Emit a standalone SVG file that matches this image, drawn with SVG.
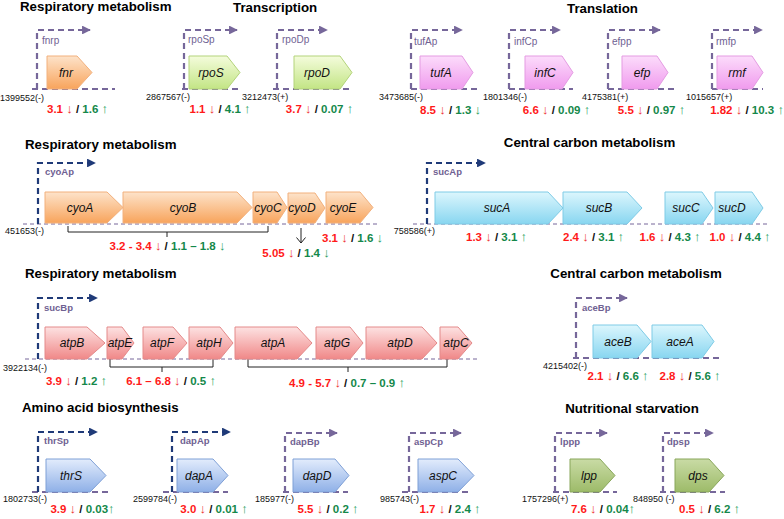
<svg xmlns="http://www.w3.org/2000/svg" width="784" height="519" viewBox="0 0 784 519">
<defs>
<linearGradient id="gOr" x1="0" y1="0" x2="0" y2="1"><stop offset="0" stop-color="#fde3ca"/><stop offset="1" stop-color="#f8a45c"/></linearGradient>
<linearGradient id="gLg" x1="0" y1="0" x2="0" y2="1"><stop offset="0" stop-color="#f4fcdc"/><stop offset="1" stop-color="#c3e585"/></linearGradient>
<linearGradient id="gPk" x1="0" y1="0" x2="0" y2="1"><stop offset="0" stop-color="#fcdcfb"/><stop offset="1" stop-color="#f09bee"/></linearGradient>
<linearGradient id="gCy" x1="0" y1="0" x2="0" y2="1"><stop offset="0" stop-color="#dcf6fd"/><stop offset="1" stop-color="#88d6f0"/></linearGradient>
<linearGradient id="gRd" x1="0" y1="0" x2="0" y2="1"><stop offset="0" stop-color="#fde2e2"/><stop offset="1" stop-color="#f08888"/></linearGradient>
<linearGradient id="gBl" x1="0" y1="0" x2="0" y2="1"><stop offset="0" stop-color="#e2ecfc"/><stop offset="1" stop-color="#8fb0e7"/></linearGradient>
<linearGradient id="gOl" x1="0" y1="0" x2="0" y2="1"><stop offset="0" stop-color="#c9dba5"/><stop offset="1" stop-color="#9dbb69"/></linearGradient>
<marker id="aP" viewBox="0 0 10 10" refX="9" refY="5" markerWidth="4" markerHeight="4" orient="auto" markerUnits="strokeWidth"><path d="M0 0 L10 5 L0 10 Z" fill="#76679a"/></marker>
<marker id="aN" viewBox="0 0 10 10" refX="9" refY="5" markerWidth="4" markerHeight="4" orient="auto" markerUnits="strokeWidth"><path d="M0 0 L10 5 L0 10 Z" fill="#1f3a78"/></marker>
</defs>
<style>
text{font-family:"Liberation Sans",Arial,sans-serif}
.t{font-size:13.3px;font-weight:bold;fill:#000}
.gn{font-size:12px;font-style:italic;fill:#111;text-anchor:middle}
.c{font-size:9px;fill:#111}
.pl{font-size:10px;fill:#6f6192}
.pb{font-size:9.5px;font-weight:bold;fill:#6f6192}
.v{font-size:11.5px;font-weight:bold;text-anchor:middle;fill:#111}
.r{fill:#ff1a1a}
.g{fill:#14884a}
.ar{font-weight:normal;font-size:13px}
.r.ar{fill:#ee3333}
.g.ar{fill:#27a060}
.pp{fill:none;stroke:#76679a;stroke-width:2.2;stroke-dasharray:6 4;marker-end:url(#aP)}
.pn{fill:none;stroke:#1f3a78;stroke-width:2.2;stroke-dasharray:6 4;marker-end:url(#aN)}
.bt{fill:none;stroke:#76679a;stroke-width:2.2;stroke-dasharray:6 4}
.bn{fill:none;stroke:#76679a;stroke-width:1;stroke-dasharray:4 3}
.br{fill:none;stroke:#222;stroke-width:1}
.or{fill:url(#gOr);stroke:#f2b07c;stroke-width:1}
.lg{fill:url(#gLg);stroke:#b3d37a;stroke-width:1}
.pk{fill:url(#gPk);stroke:#e49be2;stroke-width:1}
.cy{fill:url(#gCy);stroke:#7ecbe6;stroke-width:1}
.rd{fill:url(#gRd);stroke:#e48a8a;stroke-width:1}
.bl{fill:url(#gBl);stroke:#7fa0d6;stroke-width:1}
.ol{fill:url(#gOl);stroke:#88a65a;stroke-width:1}
</style>
<rect width="784" height="519" fill="#fff"/>

<!-- titles -->
<text class="t" x="20" y="11">Respiratory metabolism</text>
<text class="t" x="233" y="12">Transcription</text>
<text class="t" x="567" y="13">Translation</text>
<text class="t" x="25" y="149">Respiratory metabolism</text>
<text class="t" x="589.5" y="147" text-anchor="middle">Central carbon metabolism</text>
<text class="t" x="25" y="278">Respiratory metabolism</text>
<text class="t" x="636" y="278" text-anchor="middle">Central carbon metabolism</text>
<text class="t" x="22" y="412">Amino acid biosynthesis</text>
<text class="t" x="632" y="413" text-anchor="middle">Nutritional starvation</text>

<!-- connectors: promoters, baselines, brackets -->
<g id="connectors">
<path class="bt" d="M32 89 H115"/>
<path class="pp" d="M37 89 V30 H90"/>
<path class="bt" d="M182 89 H238"/>
<path class="pp" d="M184 89 V30 H237"/>
<path class="bt" d="M273 89 H353"/>
<path class="pp" d="M277 89 V30 H327"/>
<path class="bt" d="M411 89 H480"/>
<path class="pp" d="M411 89 V30 H462"/>
<path class="bt" d="M509 89 H573"/>
<path class="pp" d="M509 89 V30 H560"/>
<path class="bt" d="M608 89 H677"/>
<path class="pp" d="M608 89 V30 H660"/>
<path class="bt" d="M712 89 H763"/>
<path class="pp" d="M712 89 V30 H762"/>

<path class="bn" d="M23 224 H377"/>
<path class="pn" d="M38 224 V163 H95"/>
<path class="bn" d="M413 224 H767"/>
<path class="pn" d="M427 224 V163 H485"/>

<path class="bn" d="M25 359 H478"/>
<path class="pn" d="M38 359 V298 H97"/>
<path class="bt" d="M573 358 H722"/>
<path class="pp" d="M576 358 V298 H627"/>

<path class="bt" d="M32 492 H112"/>
<path class="pn" d="M38 492 V432 H97"/>
<path class="bt" d="M163 492 H228"/>
<path class="pn" d="M172 492 V432 H230"/>
<path class="bt" d="M283 492 H348"/>
<path class="pp" d="M285 492 V433 H337"/>
<path class="bt" d="M402 492 H468"/>
<path class="pp" d="M409 492 V433 H461"/>
<path class="bt" d="M553 492 H617"/>
<path class="pp" d="M555 492 V433 H607"/>
<path class="bt" d="M660 492 H725"/>
<path class="pp" d="M663 492 V433 H713"/>

<path class="br" d="M68 226 V232 H268 V226 M167 232 V237"/>
<path class="br" d="M301 228 V243 M296.5 237.5 L301 243 L305.5 237.5"/>
<path class="br" d="M110 359 V367 H213 V359 M162 367 V372"/>
<path class="br" d="M248 359 V367 H447 V359 M348 367 V372"/>
</g>

<!-- promoter labels -->
<text class="pl" x="42" y="44">fnrp</text>
<text class="pl" x="188" y="43">rpoSp</text>
<text class="pl" x="282" y="43">rpoDp</text>
<text class="pl" x="414" y="45">tufAp</text>
<text class="pl" x="514" y="45">infCp</text>
<text class="pl" x="612" y="45">efpp</text>
<text class="pl" x="716" y="45">rmfp</text>
<text class="pb" x="45" y="175">cyoAp</text>
<text class="pb" x="433" y="175">sucAp</text>
<text class="pb" x="44" y="311">sucBp</text>
<text class="pb" x="582" y="311">aceBp</text>
<text class="pb" x="44" y="444">thrSp</text>
<text class="pb" x="180" y="444">dapAp</text>
<text class="pb" x="290" y="445">dapBp</text>
<text class="pb" x="414" y="445">aspCp</text>
<text class="pb" x="560" y="445">lppp</text>
<text class="pb" x="667" y="445">dpsp</text>

<!-- genes -->
<g id="fnr"><polygon class="or" points="47,56 77,56 92,72.5 77,89 47,89"/><text class="gn" x="66" y="77">fnr</text></g>
<g id="rpoS"><polygon class="lg" points="189,56 227,56 240,72.5 227,89 189,89"/><text class="gn" x="211" y="77">rpoS</text></g>
<g id="rpoD"><polygon class="lg" points="294,56 340,56 352,72.5 340,89 294,89"/><text class="gn" x="317" y="77">rpoD</text></g>
<g id="tufA"><polygon class="pk" points="420,56 462,56 473,72.5 462,89 420,89"/><text class="gn" x="441" y="77">tufA</text></g>
<g id="infC"><polygon class="pk" points="525,56 562,56 573,72.5 562,89 525,89"/><text class="gn" x="545" y="77">infC</text></g>
<g id="efp"><polygon class="pk" points="622,56 657,56 668,72.5 657,89 622,89"/><text class="gn" x="642" y="77">efp</text></g>
<g id="rmf"><polygon class="pk" points="717,56 752,56 763,72.5 752,89 717,89"/><text class="gn" x="737" y="77">rmf</text></g>

<g id="cyoA"><polygon class="or" points="45,192 107,192 123,207.5 107,223 45,223"/><text class="gn" x="80" y="212">cyoA</text></g>
<g id="cyoB"><polygon class="or" points="123,192 237,192 252,207.5 237,223 123,223"/><text class="gn" x="183" y="212">cyoB</text></g>
<g id="cyoC"><polygon class="or" points="253,192 277,192 287,207.5 277,223 253,223"/><text class="gn" x="268" y="212">cyoC</text></g>
<g id="cyoD"><polygon class="or" points="288,193 315,193 325,208 315,223 288,223"/><text class="gn" x="302" y="212">cyoD</text></g>
<g id="cyoE"><polygon class="or" points="326,192 360,192 373,207.5 360,223 326,223"/><text class="gn" x="343" y="212">cyoE</text></g>

<g id="sucA"><polygon class="cy" points="435,192 548,192 563,208 548,224 435,224"/><text class="gn" x="497" y="212">sucA</text></g>
<g id="sucB"><polygon class="cy" points="563,192 627,192 642,208 627,224 563,224"/><text class="gn" x="599" y="212">sucB</text></g>
<g id="sucC"><polygon class="cy" points="665,192 702,192 713,208 702,224 665,224"/><text class="gn" x="686" y="212">sucC</text></g>
<g id="sucD"><polygon class="cy" points="715,192 752,192 763,208 752,224 715,224"/><text class="gn" x="732" y="212">sucD</text></g>

<g id="atpB"><polygon class="rd" points="45,327 87,327 105,343 87,359 45,359"/><text class="gn" x="72" y="347">atpB</text></g>
<g id="atpE"><polygon class="rd" points="107,327 122,327 134,343 122,359 107,359"/><text class="gn" x="120" y="347">atpE</text></g>
<g id="atpF"><polygon class="rd" points="143,327 173,327 187,343 173,359 143,359"/><text class="gn" x="162" y="347">atpF</text></g>
<g id="atpH"><polygon class="rd" points="189,327 220,327 233,343 220,359 189,359"/><text class="gn" x="209" y="347">atpH</text></g>
<g id="atpA"><polygon class="rd" points="235,327 297,327 312,343 297,359 235,359"/><text class="gn" x="273" y="347">atpA</text></g>
<g id="atpG"><polygon class="rd" points="316,327 350,327 363,343 350,359 316,359"/><text class="gn" x="337" y="347">atpG</text></g>
<g id="atpD"><polygon class="rd" points="366,327 422,327 437,343 422,359 366,359"/><text class="gn" x="400" y="347">atpD</text></g>
<g id="atpC"><polygon class="rd" points="440,327 458,327 472,343 458,359 440,359"/><text class="gn" x="456" y="347">atpC</text></g>

<g id="aceB"><polygon class="cy" points="593,325 637,325 651,341.5 637,358 593,358"/><text class="gn" x="618" y="346">aceB</text></g>
<g id="aceA"><polygon class="cy" points="652,325 702,325 714,341.5 702,358 652,358"/><text class="gn" x="680" y="346">aceA</text></g>

<g id="thrS"><polygon class="bl" points="46,459 90,459 106,475.5 90,492 46,492"/><text class="gn" x="71" y="480">thrS</text></g>
<g id="dapA"><polygon class="bl" points="177,459 213,459 228,475.5 213,492 177,492"/><text class="gn" x="199" y="480">dapA</text></g>
<g id="dapD"><polygon class="bl" points="293,459 335,459 349,475.5 335,492 293,492"/><text class="gn" x="317" y="480">dapD</text></g>
<g id="aspC"><polygon class="bl" points="418,459 458,459 474,475.5 458,492 418,492"/><text class="gn" x="443" y="480">aspC</text></g>
<g id="lpp"><polygon class="ol" points="570,459 600,459 615,475.5 600,492 570,492"/><text class="gn" x="589" y="480">lpp</text></g>
<g id="dps"><polygon class="ol" points="675,459 709,459 724,475.5 709,492 675,492"/><text class="gn" x="698" y="480">dps</text></g>

<!-- coordinates -->
<text class="c" x="44" y="101" text-anchor="end">1399552(-)</text>
<text class="c" x="146" y="100">2867567(-)</text>
<text class="c" x="242" y="100">3212473(+)</text>
<text class="c" x="423" y="100" text-anchor="end">3473685(-)</text>
<text class="c" x="483" y="100">1801346(-)</text>
<text class="c" x="582" y="100">4175381(+)</text>
<text class="c" x="686" y="100">1015657(+)</text>
<text class="c" x="5" y="234">451653(-)</text>
<text class="c" x="435" y="234" text-anchor="end">758586(+)</text>
<text class="c" x="3" y="371">3922134(-)</text>
<text class="c" x="543" y="369">4215402(-)</text>
<text class="c" x="3" y="502">1802733(-)</text>
<text class="c" x="133" y="502">2599784(-)</text>
<text class="c" x="255" y="502">185977(-)</text>
<text class="c" x="419" y="502" text-anchor="end">985743(-)</text>
<text class="c" x="522" y="502">1757296(+)</text>
<text class="c" x="633" y="502">848950 (-)</text>

<!-- values -->
<text class="v" x="77.5" y="113"><tspan class="r">3.1 </tspan><tspan class="r ar">↓</tspan> / <tspan class="g">1.6 </tspan><tspan class="g ar">↑</tspan></text>
<text class="v" x="220" y="113"><tspan class="r">1.1 </tspan><tspan class="r ar">↓</tspan> / <tspan class="g">4.1 </tspan><tspan class="g ar">↑</tspan></text>
<text class="v" x="319.5" y="113"><tspan class="r">3.7 </tspan><tspan class="r ar">↓</tspan> / <tspan class="g">0.07 </tspan><tspan class="g ar">↑</tspan></text>
<text class="v" x="450.5" y="114"><tspan class="r">8.5 </tspan><tspan class="r ar">↓</tspan> / <tspan class="g">1.3 </tspan><tspan class="g ar">↓</tspan></text>
<text class="v" x="556.5" y="114"><tspan class="r">6.6 </tspan><tspan class="r ar">↓</tspan> / <tspan class="g">0.09 </tspan><tspan class="g ar">↑</tspan></text>
<text class="v" x="651.5" y="114"><tspan class="r">5.5 </tspan><tspan class="r ar">↓</tspan> / <tspan class="g">0.97 </tspan><tspan class="g ar">↑</tspan></text>
<text class="v" x="747" y="114"><tspan class="r">1.82 </tspan><tspan class="r ar">↓</tspan> / <tspan class="g">10.3 </tspan><tspan class="g ar">↑</tspan></text>

<text class="v" x="167.5" y="250"><tspan class="r">3.2 - 3.4 </tspan><tspan class="r ar">↓</tspan> / <tspan class="g">1.1 – 1.8 </tspan><tspan class="g ar">↓</tspan></text>
<text class="v" x="296" y="257"><tspan class="r">5.05 </tspan><tspan class="r ar">↓</tspan> / <tspan class="g">1.4 </tspan><tspan class="g ar">↓</tspan></text>
<text class="v" x="352.5" y="242"><tspan class="r">3.1 </tspan><tspan class="r ar">↓</tspan> / <tspan class="g">1.6 </tspan><tspan class="g ar">↓</tspan></text>

<text class="v" x="496.5" y="241"><tspan class="r">1.3 </tspan><tspan class="r ar">↓</tspan> / <tspan class="g">3.1 </tspan><tspan class="g ar">↑</tspan></text>
<text class="v" x="593.5" y="241"><tspan class="r">2.4 </tspan><tspan class="r ar">↓</tspan> / <tspan class="g">3.1 </tspan><tspan class="g ar">↑</tspan></text>
<text class="v" x="670" y="241"><tspan class="r">1.6 </tspan><tspan class="r ar">↓</tspan> / <tspan class="g">4.3 </tspan><tspan class="g ar">↑</tspan></text>
<text class="v" x="740" y="241"><tspan class="r">1.0 </tspan><tspan class="r ar">↓</tspan> / <tspan class="g">4.4 </tspan><tspan class="g ar">↑</tspan></text>

<text class="v" x="76.5" y="385"><tspan class="r">3.9 </tspan><tspan class="r ar">↓</tspan> / <tspan class="g">1.2 </tspan><tspan class="g ar">↑</tspan></text>
<text class="v" x="171" y="385"><tspan class="r">6.1 – 6.8 </tspan><tspan class="r ar">↓</tspan> / <tspan class="g">0.5 </tspan><tspan class="g ar">↑</tspan></text>
<text class="v" x="347" y="387"><tspan class="r">4.9 - 5.7 </tspan><tspan class="r ar">↓</tspan> / <tspan class="g">0.7 – 0.9 </tspan><tspan class="g ar">↑</tspan></text>

<text class="v" x="618" y="380"><tspan class="r">2.1 </tspan><tspan class="r ar">↓</tspan> / <tspan class="g">6.6 </tspan><tspan class="g ar">↑</tspan></text>
<text class="v" x="690" y="380"><tspan class="r">2.8 </tspan><tspan class="r ar">↓</tspan> / <tspan class="g">5.6 </tspan><tspan class="g ar">↑</tspan></text>

<text class="v" x="82.5" y="513"><tspan class="r">3.9 </tspan><tspan class="r ar">↓</tspan> / <tspan class="g">0.03</tspan><tspan class="g ar">↑</tspan></text>
<text class="v" x="214" y="513"><tspan class="r">3.0 </tspan><tspan class="r ar">↓</tspan> / <tspan class="g">0.01 </tspan><tspan class="g ar">↑</tspan></text>
<text class="v" x="328" y="513"><tspan class="r">5.5 </tspan><tspan class="r ar">↓</tspan> / <tspan class="g">0.2 </tspan><tspan class="g ar">↑</tspan></text>
<text class="v" x="450" y="513"><tspan class="r">1.7 </tspan><tspan class="r ar">↓</tspan> / <tspan class="g">2.4 </tspan><tspan class="g ar">↑</tspan></text>
<text class="v" x="603" y="513"><tspan class="r">7.6 </tspan><tspan class="r ar">↓</tspan> / <tspan class="g">0.04</tspan><tspan class="g ar">↑</tspan></text>
<text class="v" x="709.5" y="513"><tspan class="r">0.5 </tspan><tspan class="r ar">↓</tspan> / <tspan class="g">6.2 </tspan><tspan class="g ar">↑</tspan></text>
</svg>
